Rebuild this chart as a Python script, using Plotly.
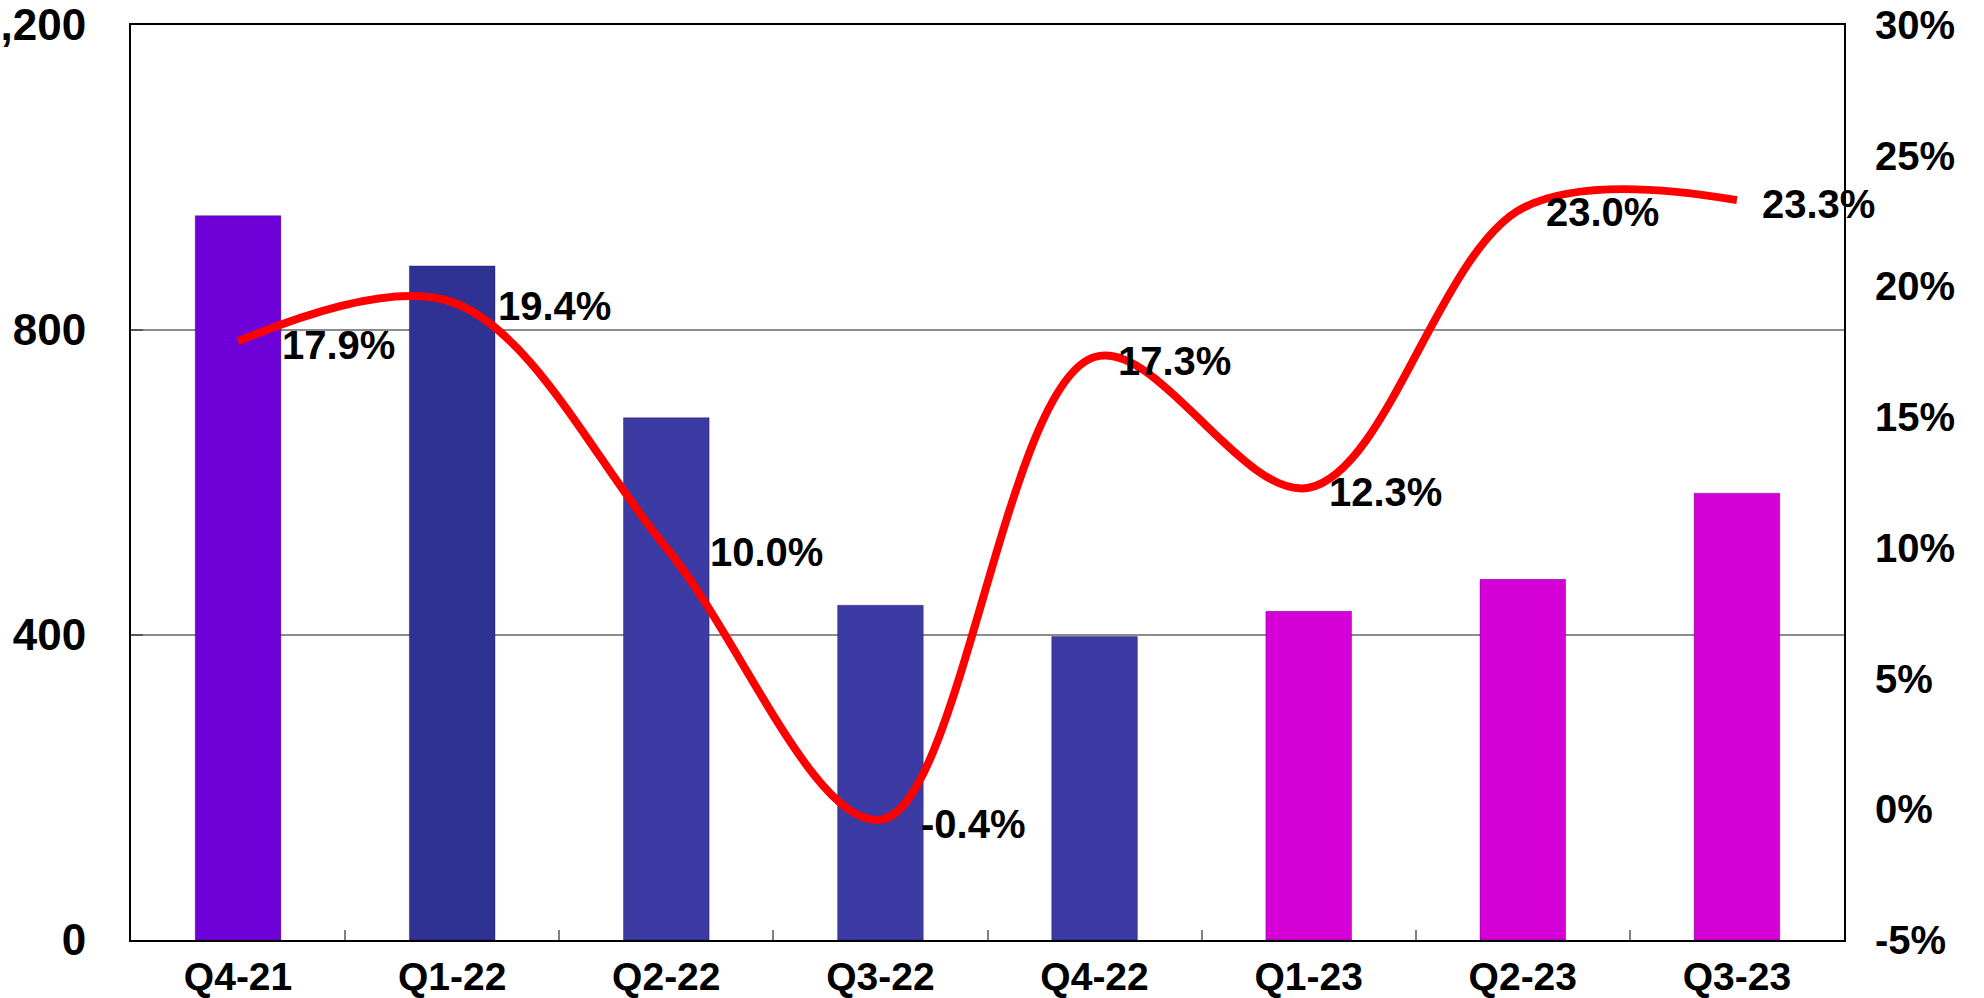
import plotly.graph_objects as go

# ---- data ----
quarters = ["Q4-21", "Q1-22", "Q2-22", "Q3-22", "Q4-22", "Q1-23", "Q2-23", "Q3-23"]
bar_values = [950, 884, 685, 439, 398, 431, 473, 586]
growth_pct = [17.9, 19.4, 10.0, -0.4, 17.3, 12.3, 23.0, 23.3]
left_ticks = [0, 400, 800, 1200]
left_tick_text = ["0", "400", "800", "1,200"]
right_ticks = [-5, 0, 5, 10, 15, 20, 25, 30]
right_tick_text = ["-5%", "0%", "5%", "10%", "15%", "20%", "25%", "30%"]

# ---- style ----
bar_colors = ["#6E00D8", "#303293", "#3B3BA3", "#3B3BA3", "#3B3BA3",
              "#D500D5", "#D500D5", "#D500D5"]
label_xshift = [42, 44, 42, 39, 21, 18, 21, 23]
FONT = "Liberation Sans, Arial, sans-serif"
NARROW = "Liberation Sans Narrow, Arial Narrow, Liberation Sans, sans-serif"

fig = go.Figure()
fig.add_trace(go.Bar(
    x=quarters, y=bar_values, marker=dict(color=bar_colors, line=dict(color="rgba(40,0,80,0.35)", width=1)),
    yaxis="y", showlegend=False, hoverinfo="skip",
))
fig.add_trace(go.Scatter(
    x=quarters, y=growth_pct, yaxis="y2", mode="lines",
    line=dict(color="#FF0000", width=8, shape="spline", smoothing=1.0),
    showlegend=False, hoverinfo="skip",
))

for q, v, dx in zip(quarters, growth_pct, label_xshift):
    fig.add_annotation(
        x=q, y=v, xref="x", yref="y2", text=f"{v:.1f}%", showarrow=False,
        xanchor="left", yanchor="middle", xshift=dx, yshift=-4,
        font=dict(family=FONT, size=40, color="black", weight="bold"),
    )

fig.update_layout(
    width=1984, height=998,
    margin=dict(l=131, r=140, t=25, b=58, autoexpand=False),
    paper_bgcolor="white", plot_bgcolor="white",
    bargap=0.6,
    font=dict(family=FONT, size=36, color="black", weight="bold"),
    xaxis=dict(
        type="category", range=[-0.5, len(quarters) - 0.5],
        showline=True, linecolor="black", linewidth=2,
        mirror=True, ticks="inside", tickson="boundaries", ticklen=10,
        tickcolor="#808080", tickwidth=1.5, showgrid=False, automargin=False,
        tickfont=dict(family=NARROW, size=39, color="black", weight="bold"),
        ticklabelstandoff=1,
    ),
    yaxis=dict(
        range=[0, 1200], tickvals=left_ticks, ticktext=left_tick_text,
        showgrid=True, gridcolor="#8C8C8C", gridwidth=2, zeroline=False,
        showline=True, linecolor="black", linewidth=2, mirror=True,
        ticks="inside", ticklen=12, tickcolor="#555555", tickwidth=2,
        automargin=False,
        tickfont=dict(family=NARROW, size=44, color="black", weight="bold"),
        ticklabelstandoff=34,
    ),
    yaxis2=dict(
        range=[-5, 30], tickvals=right_ticks, ticktext=right_tick_text,
        overlaying="y", side="right", showgrid=False, zeroline=False,
        showline=False, ticks="", automargin=False,
        tickfont=dict(family=NARROW, size=40, color="black", weight="bold"),
        ticklabelstandoff=30,
    ),
)

fig.write_html(
    "out.html",
    config={"displayModeBar": False},
    post_script="document.body.style.margin='0';document.body.style.overflow='hidden';",
)
